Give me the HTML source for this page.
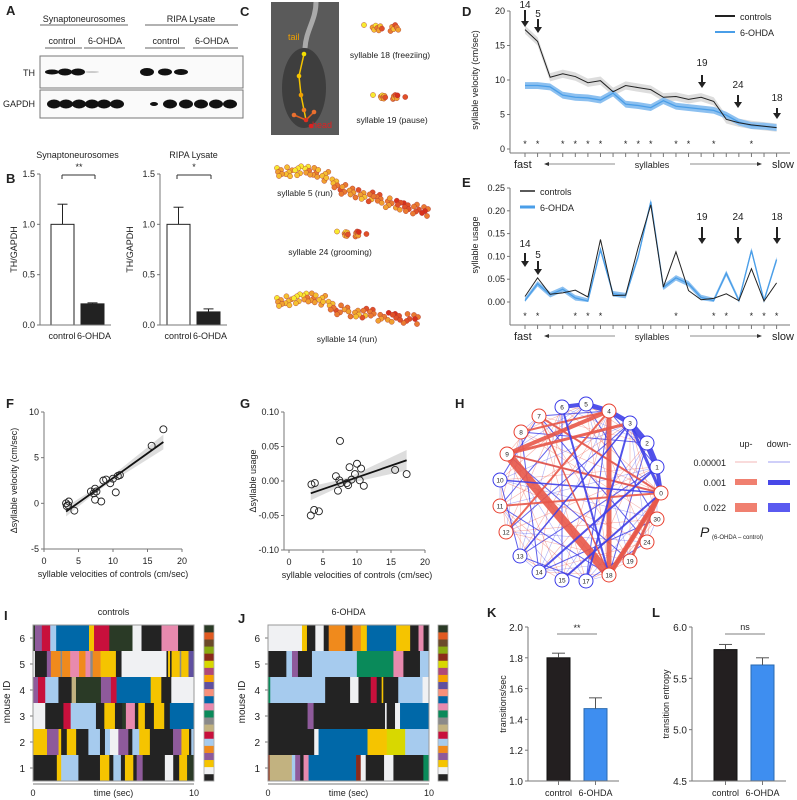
<!DOCTYPE html>
<html><head><meta charset="utf-8">
<style>
html,body{margin:0;padding:0;background:#fff;}
svg{display:block;font-family:"Liberation Sans",Arial,sans-serif;}
</style></head>
<body>
<svg id="fig" width="797" height="800" viewBox="0 0 797 800" xmlns="http://www.w3.org/2000/svg">
<g id="root"></g>
</svg>
<script>
// ---------- DATA ----------
var bLeftVals=[1.0,0.21], bLeftErr=[1.2,0.22];
var bRightVals=[1.0,0.13], bRightErr=[1.17,0.16];
var velCtrl=[17.3,15.6,10.4,10.9,10.5,9.6,9.9,8.3,9.2,8.9,8.6,7.5,7.6,7.2,7.5,6.9,4.3,3.8,3.5,3.3,3.1];
var velOhda=[9.2,9.2,9.0,7.8,7.5,7.4,7.1,8.1,6.5,6.3,6.0,7.0,6.2,6.0,5.8,5.6,4.9,3.9,3.4,3.3,3.1];
var velStars=[0,1,3,4,5,6,8,9,10,12,13,15,18];
var useCtrl=[0.012,0.053,0.017,0.020,0.026,0.011,0.137,0.014,0.015,0.12,0.213,0.033,0.11,0.025,0.005,0.008,0.018,0.003,0.073,0.002,0.042];
var useOhda=[0.003,0.04,0.016,0.028,0.009,0.002,0.115,0.018,0.014,0.10,0.22,0.032,0.053,0.04,0.01,0.003,0.063,0.003,0.113,0.003,0.093];
var useStars=[0,1,4,5,6,12,15,16,18,19,20];
var fX=[3.2,3.3,3.6,3.5,4.4,6.8,7.2,7.4,7.6,7.4,8.3,8.6,9.0,9.6,10.0,10.4,10.7,11.0,15.6,17.3];
var fY=[0,-0.3,0.2,-0.2,-0.8,1.3,1.1,1.6,1.3,0.4,0.2,2.5,2.6,2.2,2.7,1.2,3.0,3.1,6.3,8.1];
var gX=[3.2,3.3,3.7,3.8,4.4,6.9,7.2,7.5,7.4,7.6,8.5,8.7,8.9,9.2,9.7,10.0,10.4,10.6,11.0,15.6,17.3];
var gY=[-0.05,-0.005,-0.042,-0.003,-0.044,0.007,-0.014,0.058,0.001,-0.003,-0.003,-0.006,0.02,0.002,0.01,0.025,0.001,0.018,-0.007,0.016,0.01];
var kVals=[1.80,1.47], kErr=[1.83,1.54];
var lVals=[5.78,5.63], lErr=[5.83,5.70];
var pal={k:"#232323",w:"#f0f1f3",y:"#f5c400",p:"#8e5a9b",o:"#f08a1c",lb:"#a6cbee",cr:"#c8103c",t:"#c2b280",g:"#8a8a8a",gr:"#0a8a5a",pk:"#e88aae",b:"#0068a8",sa:"#f8907a",v:"#6050a0",am:"#f6a000",m:"#b04878",yg:"#d8d800",br:"#8b2a1a",ol:"#8aaa10",br2:"#6b4a2a",or:"#e05a20",dg:"#2a3a26"};
var barColors=["k","w","y","p","o","lb","cr","t","g","gr","pk","b","sa","v","am","m","yg","br","ol","br2","or","dg"];
var iR1=[["k",1.48],["y",.27],["lb",1.07],["k",1.34],["y",.58],["k",.25],["lb",.47],["k",.25],["y",.52],["k",.21],["p",.37],["k",1.38],["w",.52],["k",.37],["y",.49],["dg",.43]];
var iR2=[["y",.87],["p",.72],["y",.16],["k",.35],["y",.58],["k",.76],["lb",.72],["k",.31],["lb",.31],["w",.52],["p",.62],["k",.25],["lb",.43],["y",.66],["k",1.44],["p",.52],["y",.47],["k",.14],["lb",.17]];
var iR3=[["w",.76],["k",1.13],["cr",.45],["lb",1.57],["k",.52],["y",.66],["k",.45],["dg",.23],["pk",.56],["k",.21],["y",.41],["k",.56],["y",.64],["k",.35],["b",1.5]];
var iR4=[["p",.31],["cr",.45],["lb",.82],["k",.82],["t",.27],["dg",1.55],["p",.62],["cr",.35],["b",2.12],["y",.66],["k",.62],["w",1.4]];
var iR5=[["w",.12],["k",.74],["p",.25],["o",.6],["g",.1],["o",.5],["pk",.55],["o",.4],["pk",.3],["g",.15],["o",.49],["y",.95],["k",.35],["w",2.79],["k",.1],["y",.12],["k",.1],["y",.5],["g",.1],["y",.45],["v",.34]];
var iR6=[["dg",.12],["p",.43],["cr",.52],["lb",.37],["b",2.04],["y",.31],["cr",.95],["dg",1.44],["w",.56],["k",1.24],["pk",1.03],["k",.99]];
var jR1=[["br",.1],["t",1.38],["lb",.21],["p",.31],["k",.21],["pk",.31],["b",2.95],["br",.29],["w",.31],["k",1.14],["w",.58],["k",1.86],["gr",.35]];
var jR2=[["k",2.87],["w",.27],["b",3.04],["y",1.2],["yg",1.14],["lb",1.48]];
var jR3=[["k",2.46],["p",.37],["k",4.44],["w",.1],["k",.52],["w",.31],["b",1.8]];
var jR4=[["gr",.14],["lb",3.41],["k",1.55],["w",.52],["k",.76],["cr",.37],["k",.31],["y",.1],["k",.93],["lb",1.51],["w",.39]];
var jR5=[["k",1.14],["lb",.35],["p",.37],["k",.87],["lb",2.79],["gr",2.27],["pk",.62],["k",1.03],["lb",.56]];
var jR6=[["w",2.11],["y",.31],["k",.52],["w",.52],["k",.31],["o",1.03],["k",.45],["o",.52],["y",.37],["b",1.82],["y",.87],["k",.52],["pk",.31],["k",.35]];
var hNodes=[["0",661,493,"r"],["1",657,467,"b"],["2",647,443,"b"],["3",630,423,"b"],["4",609,411,"r"],["5",586,404,"b"],["6",562,407,"b"],["7",539,416,"r"],["8",521,432,"r"],["9",507,454,"r"],["10",500,480,"b"],["11",500,506,"r"],["12",506,532,"r"],["13",520,556,"b"],["14",539,572,"b"],["15",562,580,"b"],["17",586,581,"b"],["18",609,575,"r"],["19",630,561,"r"],["24",647,542,"r"],["30",657,519,"r"]];
var hThick=[["9","18","r",9],["4","18","r",5],["0","18","r",5],["9","4","r",4],["9","3","r",3],["5","4","b",5],["4","3","b",5],["3","2","b",6],["2","1","b",6],["1","0","b",4],["3","0","b",3],["6","5","b",4],["7","0","r",2],["11","0","r",2],["9","0","r",2],["8","4","r",2],["12","4","r",2],["14","1","b",2],["15","0","b",2],["17","3","b",2],["13","3","b",1.5],["18","0","r",3],["19","0","r",3],["6","18","b",2],["10","0","b",1.5],["7","18","r",1.5]];

// ---------- HELPERS ----------
var NS="http://www.w3.org/2000/svg";
var root=document.getElementById('root');
function el(tag,attrs,parent,txt){var e=document.createElementNS(NS,tag);for(var k in attrs)e.setAttribute(k,attrs[k]);if(txt!==undefined)e.textContent=txt;(parent||root).appendChild(e);return e;}
function grp(name){var g=el('g',{});return g;}
function txt(p,x,y,s,size,anchor,extra){var a={x:x,y:y,'font-size':size||9,'text-anchor':anchor||'start',fill:'#222'};if(extra)for(var k in extra)a[k]=extra[k];return el('text',a,p,s);}
function label(L,x,y){var t=txt(root,x,y,L,13,'start',{'font-weight':'bold'});}
function line(p,x1,y1,x2,y2,c,w){return el('line',{x1:x1,y1:y1,x2:x2,y2:y2,stroke:c||'#444',"stroke-width":w||1},p);}
function arrow(p,x,y1,y2,lab,ly){line(p,x,y1,x,y2-5,'#222',2);el('path',{d:'M'+(x-4)+','+(y2-6)+'L'+(x+4)+','+(y2-6)+'L'+x+','+y2+'Z',fill:'#222'},p);txt(p,x,ly,lab,10,'middle');}

// ---------- A ----------
label('A',6,15);
(function(){var g=grp('western-blot');
txt(g,84,22,'Synaptoneurosomes',9,'middle');line(g,40,25,128,25,'#333',0.8);
txt(g,191,22,'RIPA Lysate',9,'middle');line(g,145,25,238,25,'#333',0.8);
[[62,'control',45,82],[105,'6-OHDA',84,125],[166,'control',145,185],[212,'6-OHDA',193,238]].forEach(function(c){txt(g,c[0],44,c[1],9,'middle');line(g,c[2],48,c[3],48,'#333',0.8);});
el('rect',{x:40,y:56,width:203,height:32,fill:'#fafafa',stroke:'#777'},g);
el('rect',{x:40,y:90,width:203,height:28,fill:'#fafafa',stroke:'#777'},g);
txt(g,35,76,'TH',9,'end');txt(g,35,107,'GAPDH',9,'end');
var th=[[48,2.5],[61,3.5],[74,3.5],[88,1],[143,4],[161,3.5],[177,3]];
th.forEach(function(b){el('ellipse',{cx:b[0]+4,cy:72,rx:7,ry:b[1],fill:'#111',opacity:b[1]<=1?0.2:1},g);});
[50,62,75,88,100,113,150,166,182,197,212,226].forEach(function(x,i){el('ellipse',{cx:x+4,cy:104,rx:i==6?4:7,ry:i==6?2:4.5,fill:'#111'},g);});
})();

// ---------- B ----------
label('B',6,183);
function barPanel(name,title,ax,vals,errs,bx,bw,ymin,ymax,py0,py1,ticks,tickFmt,fills,ylab,ylx){
 var g=grp(name);var sc=function(v){return py0-(v-ymin)/(ymax-ymin)*(py0-py1);};
 if(title)txt(g,(bx[0]+bx[1]+bw)/2,158,title,9,'middle');
 line(g,ax,py1,ax,py0,'#777');
 ticks.forEach(function(t){line(g,ax-3,sc(t),ax,sc(t),'#777');txt(g,ax-5,sc(t)+3,tickFmt(t),9,'end');});
 vals.forEach(function(v,i){var x=bx[i];var r=el('rect',{x:x,y:sc(v),width:bw,height:py0-sc(v),fill:fills[i],stroke:'#222','stroke-width':1},g);line(g,x+bw/2,sc(v),x+bw/2,sc(errs[i]),'#222');line(g,x+bw/2-5,sc(errs[i]),x+bw/2+5,sc(errs[i]),'#222');});
 line(g,ax,py0,bx[1]+bw+7,py0,'#777');
 txt(g,0,0,ylab,9,'middle',{transform:'translate('+ylx+','+(py0+py1)/2+') rotate(-90)'});
 return {g:g,sc:sc};
}
var pb1=barPanel('bar-chart-synaptoneurosomes','Synaptoneurosomes',40,bLeftVals,bLeftErr,[51,81],23,0,1.5,325,174,[0,0.5,1.0,1.5],function(t){return t.toFixed(1);},['#fff','#222'],'TH/GAPDH',17);
txt(pb1.g,62,339,'control',9,'middle');txt(pb1.g,94,339,'6-OHDA',9,'middle');
line(pb1.g,62,175,95,175,'#333');line(pb1.g,62,175,62,179,'#333');line(pb1.g,95,175,95,179,'#333');txt(pb1.g,79,170,'**',9,'middle');
var pb2=barPanel('bar-chart-ripa','RIPA Lysate',160,bRightVals,bRightErr,[167,197],23,0,1.5,325,174,[0,0.5,1.0,1.5],function(t){return t.toFixed(1);},['#fff','#222'],'TH/GAPDH',133);
txt(pb2.g,178,339,'control',9,'middle');txt(pb2.g,210,339,'6-OHDA',9,'middle');
line(pb2.g,177,175,211,175,'#333');line(pb2.g,177,175,177,179,'#333');line(pb2.g,211,175,211,179,'#333');txt(pb2.g,194,170,'*',9,'middle');

// ---------- C ----------
label('C',240,16);
(function(){var g=grp('pose-illustrations');
el('rect',{x:271,y:2,width:68,height:133,fill:'#5a5a5a'},g);
el('ellipse',{cx:304,cy:88,rx:22,ry:40,fill:'#3e3e3e'},g);
el('path',{d:'M316,2 C316,20 306,30 305,48',stroke:'#aaa','stroke-width':5,fill:'none'},g);
el('polyline',{points:'304,54 299,76 301,95 304,110 306,120',stroke:'#f5c400','stroke-width':1.5,fill:'none'},g);
el('polyline',{points:'294,115 306,120 314,112 M306,120 311,126',stroke:'#e06020','stroke-width':1.5,fill:'none'},g);
[[304,54,'#f5e000'],[299,76,'#f5c400'],[301,95,'#f0a000'],[304,110,'#f08020'],[294,115,'#e87030'],[314,112,'#e87030'],[306,120,'#e03020'],[311,126,'#e02020']].forEach(function(d){el('circle',{cx:d[0],cy:d[1],r:2.3,fill:d[2]},g);});
txt(g,288,40,'tail',9,'start',{fill:'#f0a000'});txt(g,312,128,'head',9,'start',{fill:'#e02020'});
var cols=['#f8ea30','#f5c030','#f0a030','#ea7a30','#e05028','#d8301c'];
function cluster(x0,y0,x1,y1,n,spread,hump){for(var i=0;i<n;i++){var f=(i%17)/16;var j=((i*37)%11-5)/5;var x=x0+(x1-x0)*f+((i*13)%7-3);var y=y0+(y1-y0)*f+j*spread-(hump?hump*Math.sin(Math.PI*Math.min(f*2.2,1)):0);var c=cols[Math.min(5,Math.floor(((i*7)%10)/10*3+f*3))];el('circle',{cx:x,cy:y,r:2.6,fill:c,stroke:'#a33','stroke-width':0.4},g);}}
cluster(367,28,408,28,14,3,0);cluster(376,97,404,97,16,2,0);
cluster(280,173,425,212,85,5,10);cluster(340,234,365,234,16,2.5,0);cluster(280,303,415,320,75,5,9);
txt(g,390,58,'syllable 18 (freeziing)',8.5,'middle');txt(g,392,123,'syllable 19 (pause)',8.5,'middle');
txt(g,305,196,'syllable 5 (run)',8.5,'middle');txt(g,330,255,'syllable 24 (grooming)',8.5,'middle');txt(g,347,342,'syllable 14 (run)',8.5,'middle');
})();

// ---------- D & E ----------
function linePanel(name,ctrl,ohda,stars,ymax,py0,py1,ticks,fmt,ylab,axisY,starY,band){
 var g=grp(name);var ax=510,x0=525,dx=12.58;
 var sx=function(i){return x0+i*dx;};var sy=function(v){return py0-v/ymax*(py0-py1);};
 line(g,ax,py1,ax,axisY,'#777');
 ticks.forEach(function(t){line(g,ax-3,sy(t),ax,sy(t),'#777');txt(g,ax-5,sy(t)+3,fmt(t),9,'end');});
 line(g,ax,axisY,790,axisY,'#777');
 ctrl.forEach(function(v,i){line(g,sx(i),axisY,sx(i),axisY+4,'#777');});
 var up=[],dn=[],up2=[],dn2=[];
 ohda.forEach(function(v,i){up.push(sx(i)+','+sy(v+band[0]));dn.unshift(sx(i)+','+sy(Math.max(0,v-band[0])));});
 ctrl.forEach(function(v,i){up2.push(sx(i)+','+sy(v+band[1]));dn2.unshift(sx(i)+','+sy(Math.max(0,v-band[1])));});
 el('polygon',{points:up2.concat(dn2).join(' '),fill:'#ddd'},g);
 el('polygon',{points:up.concat(dn).join(' '),fill:'#8cc0f0'},g);
 var l1=el('polyline',{points:ohda.map(function(v,i){return sx(i)+','+sy(v);}).join(' '),fill:'none',stroke:'#4a9ee8','stroke-width':1.3},g);
 var l2=el('polyline',{points:ctrl.map(function(v,i){return sx(i)+','+sy(v);}).join(' '),fill:'none',stroke:'#222','stroke-width':1},g);
 stars.forEach(function(i){txt(g,sx(i),starY,'*',9,'middle');});
 txt(g,0,0,ylab,9,'middle',{transform:'translate(478,'+((py0+py1)/2)+') rotate(-90)'});
 var fy=axisY+15;txt(g,514,fy,'fast',11,'start');txt(g,794,fy,'slow',11,'end');txt(g,652,fy,'syllables',9,'middle');
 line(g,545,fy-4,615,fy-4,'#666',0.8);el('path',{d:'M544,'+(fy-4)+'l5,-2v4z',fill:'#333'},g);
 line(g,690,fy-4,760,fy-4,'#666',0.8);el('path',{d:'M762,'+(fy-4)+'l-5,-2v4z',fill:'#333'},g);
 return g;
}
label('D',462,16);
var gd=linePanel('line-chart-velocity',velCtrl,velOhda,velStars,20,149,11,[0,5,10,15,20],function(t){return t;},'syllable velocity (cm/sec)',153,147,[0.5,0.6]);
line(gd,715,16,735,16,'#222',2);txt(gd,740,20,'controls',9);line(gd,715,32,735,32,'#4a9ee8',2);txt(gd,740,36,'6-OHDA',9);
arrow(gd,525,10,27,'14',8);arrow(gd,538,19,33,'5',17);arrow(gd,702,75,88,'19',66);arrow(gd,738,95,108,'24',88);arrow(gd,777,108,119,'18',101);
label('E',462,187);
var ge=linePanel('line-chart-usage',useCtrl,useOhda,useStars,0.25,302,188,[0,0.05,0.1,0.15,0.2,0.25],function(t){return t.toFixed(2);},'syllable usage',325,319,[0.006,0]);
line(ge,520,191,535,191,'#222',1.5);txt(ge,540,195,'controls',9);line(ge,520,207,535,207,'#4a9ee8',3);txt(ge,540,211,'6-OHDA',9);
arrow(ge,525,253,267,'14',247);arrow(ge,538,261,275,'5',258);arrow(ge,702,227,244,'19',220);arrow(ge,738,227,244,'24',220);arrow(ge,777,227,244,'18',220);

// ---------- F & G ----------
function scatter(name,xs,ys,ax,x0,x20,ymin,ymax,py0,py1,ticks,fmt,ylab,ylx,bandW){
 var g=grp(name);var sx=function(v){return x0+v/20*(x20-x0);};var sy=function(v){return py0-(v-ymin)/(ymax-ymin)*(py0-py1);};
 line(g,ax,py1,ax,py0,'#777');line(g,ax,py0,x20,py0,'#777');
 ticks.forEach(function(t){line(g,ax-3,sy(t),ax,sy(t),'#777');txt(g,ax-5,sy(t)+3,fmt(t),9,'end');});
 [0,5,10,15,20].forEach(function(t){line(g,sx(t),py0,sx(t),py0+3,'#777');txt(g,sx(t),py0+15,String(t),9,'middle');});
 txt(g,(x0+x20)/2,py0+28,'syllable velocities of controls (cm/sec)',9,'middle');
 var n=xs.length,mx=0,my=0;xs.forEach(function(v,i){mx+=v;my+=ys[i];});mx/=n;my/=n;var sxy=0,sxx=0;xs.forEach(function(v,i){sxy+=(v-mx)*(ys[i]-my);sxx+=(v-mx)*(v-mx);});var b=sxy/sxx,a=my-b*mx;
 var xa=Math.min.apply(null,xs),xb=Math.max.apply(null,xs);
 var pts=[],pts2=[];for(var k=0;k<=10;k++){var xv=xa+(xb-xa)*k/10;var w=bandW*(0.35+Math.abs(xv-mx)/(xb-mx));pts.push(sx(xv)+','+sy(a+b*xv+w));pts2.unshift(sx(xv)+','+sy(a+b*xv-w));}
 el('polygon',{points:pts.concat(pts2).join(' '),fill:'#ddd'},g);
 var fl=el('line',{x1:sx(xa),y1:sy(a+b*xa),x2:sx(xb),y2:sy(a+b*xb),stroke:'#111','stroke-width':1.8},g);
 xs.forEach(function(v,i){var c=el('circle',{cx:sx(v),cy:sy(ys[i]),r:3.5,fill:'none',stroke:'#222','stroke-width':0.9},g);});
 txt(g,0,0,ylab,9,'middle',{transform:'translate('+ylx+','+((py0+py1)/2)+') rotate(-90)'});
}
label('F',6,408);
scatter('scatter-delta-velocity',fX,fY,44,44,182,-5,10,549,412,[-5,0,5,10],function(t){return t;},'\u0394syllable velocity (cm/sec)',17,0.6);
label('G',240,408);
scatter('scatter-delta-usage',gX,gY,284,289,425,-0.1,0.1,550,412,[-0.1,-0.05,0,0.05,0.1],function(t){return t.toFixed(2);},'\u0394syllable usage',256,0.011);

// ---------- H ----------
label('H',455,408);
(function(){var g=grp('transition-network');
var pos={};hNodes.forEach(function(n){pos[n[0]]=n;});
var ids=hNodes.map(function(n){return n[0];});
for(var i=0;i<ids.length;i++)for(var j=i+1;j<ids.length;j++){var h=(i*31+j*17)%9;if(h<4){var a=pos[ids[i]],b=pos[ids[j]];el('line',{x1:a[1],y1:a[2],x2:b[1],y2:b[2],stroke:h%2?'#e84030':'#3a3ae8','stroke-width':h==0?1:0.6,opacity:h==0?0.8:0.4},g);}}
hThick.forEach(function(e){var a=pos[e[0]],b=pos[e[1]];el('line',{x1:a[1],y1:a[2],x2:b[1],y2:b[2],stroke:e[2]=='r'?'#e8584a':'#4040e8','stroke-width':e[3],opacity:0.9},g);});
hNodes.forEach(function(n){var c=el('circle',{cx:n[1],cy:n[2],r:7,fill:'#fff',stroke:n[3]=='r'?'#e84030':'#3a3ae8','stroke-width':1},g);txt(g,n[1],n[2]+2.5,n[0],6.5,'middle');});
txt(g,746,447,'up-',9,'middle');txt(g,779,447,'down-',9,'middle');
txt(g,726,466,'0.00001',9,'end');txt(g,726,486,'0.001',9,'end');txt(g,726,511,'0.022',9,'end');
line(g,735,462,757,462,'#e87070',0.6);line(g,768,462,790,462,'#4040e8',0.6);
el('rect',{x:735,y:479,width:22,height:6,fill:'#f08070'},g);el('rect',{x:768,y:480,width:22,height:5,fill:'#4848e8'},g);
el('rect',{x:735,y:503,width:22,height:9,fill:'#f08070'},g);el('rect',{x:768,y:503,width:22,height:9,fill:'#5a5af0'},g);
txt(g,700,537,'P',14,'start',{'font-style':'italic'});txt(g,712,539,'(6-OHDA \u2013 control)',6,'start');
})();

// ---------- I & J ----------
function ethogram(name,title,rows,x0,x1,colX,ylx){
 var g=grp(name);var y0=625,rh=26,sx=function(t){return x0+t/10*(x1-x0);};
 txt(g,(x0+x1)/2,615,title,9,'middle');
 rows.forEach(function(r,ri){var yy=y0+(5-ri)*rh;var t=0;r.forEach(function(s){var rc=el('rect',{x:sx(t),y:yy,width:sx(t+s[1])-sx(t)+0.3,height:rh,fill:pal[s[0]]},g);t+=s[1];});
  txt(g,x0-8,yy+rh/2+4,String(ri+1),10,'end');line(g,x0-3,yy+rh/2,x0,yy+rh/2,'#777');});
 el('rect',{x:x0,y:y0,width:x1-x0,height:6*rh,fill:'none',stroke:'#999','stroke-width':1},g);
 line(g,x0,y0+6*rh+3,x1,y0+6*rh+3,'#777');
 txt(g,x0,796,'0',9,'middle');txt(g,x1,796,'10',9,'middle');txt(g,(x0+x1)/2,796,'time (sec)',9,'middle');
 txt(g,0,0,'mouse ID',10,'middle',{transform:'translate('+ylx+',702) rotate(-90)'});
 var ch=(6*rh)/barColors.length;barColors.forEach(function(c,i){el('rect',{x:colX,y:y0+6*rh-(i+1)*ch,width:10,height:ch+0.3,fill:pal[c]},g);});
 el('rect',{x:colX,y:y0,width:10,height:6*rh,fill:'none',stroke:'#aaa','stroke-width':0.8},g);
}
label('I',4,620);ethogram('ethogram-controls','controls',[iR1,iR2,iR3,iR4,iR5,iR6],33,194,204,10);
label('J',238,623);ethogram('ethogram-6-ohda','6-OHDA',[jR1,jR2,jR3,jR4,jR5,jR6],268,429,438,245);

// ---------- K & L ----------
function kl(name,vals,errs,ax,bx,ymin,ymax,ticks,fmt,ylab,ylx,sig,sx1,sx2){
 var g=grp(name);var py0=781,py1=627;var sy=function(v){return py0-(v-ymin)/(ymax-ymin)*(py0-py1);};
 line(g,ax,py1,ax,py0,'#777');
 ticks.forEach(function(t){line(g,ax-3,sy(t),ax,sy(t),'#777');txt(g,ax-5,sy(t)+4,fmt(t),10,'end');});
 var fills=['#231f20','#3e8ef0'];
 vals.forEach(function(v,i){var x=bx[i];var r=el('rect',{x:x,y:sy(v),width:23,height:py0-sy(v),fill:fills[i],stroke:i?'#2a6ab0':'#111'},g);line(g,x+11.5,sy(v),x+11.5,sy(errs[i]),'#555');line(g,x+5,sy(errs[i]),x+18,sy(errs[i]),'#555');});
 line(g,ax,py0,bx[1]+35,py0,'#777');
 [0,1].forEach(function(i){line(g,bx[i]+11.5,py0,bx[i]+11.5,py0+4,'#777');});
 txt(g,bx[0]+11.5,796,'control',9,'middle');txt(g,bx[1]+11.5,796,'6-OHDA',9,'middle');
 line(g,sx1,634,sx2,634,'#999',1.2);txt(g,(sx1+sx2)/2,sig=='ns'?630:631,sig,9,'middle');
 txt(g,0,0,ylab,9,'middle',{transform:'translate('+ylx+',704) rotate(-90)'});
}
label('K',487,617);kl('bar-chart-transitions',kVals,kErr,528,[547,584],1.0,2.0,[1.0,1.2,1.4,1.6,1.8,2.0],function(t){return t.toFixed(1);},'transitions/sec',506,'**',557,597);
label('L',652,617);kl('bar-chart-entropy',lVals,lErr,692,[714,751],4.5,6.0,[4.5,5.0,5.5,6.0],function(t){return t.toFixed(1);},'transition entropy',669,'ns',725,765);
</script>
</body></html>
